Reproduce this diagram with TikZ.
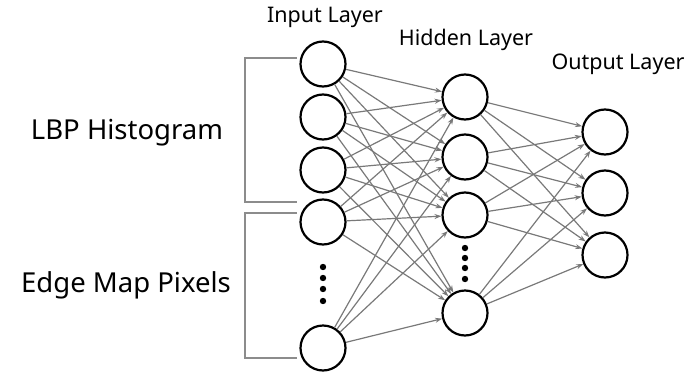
\documentclass[tikz,border=0pt]{standalone}
\usepackage{fontspec}
\setmainfont{Noto Sans}
\usetikzlibrary{arrows.meta}
\begin{document}
\begin{tikzpicture}[x=1pt, y=-1pt]
	\tikzstyle{neuron}  = [circle, minimum size=45pt, inner sep=0pt, draw=black, line width=2.2pt, fill=white]
	\tikzstyle{synapse} = [draw=gray!95!black, line width=1.2pt, -{Stealth[length=7pt, width=5pt]}]
	\tikzstyle{brace}   = [draw=gray!90, line width=1.6pt]
	\tikzstyle{layer}   = [font=\fontsize{21.5}{25}\selectfont]
	\tikzstyle{group}   = [font=\fontsize{27.5}{32}\selectfont]

	\useasboundingbox (0,0) rectangle (698,372);

	% input layer
	\foreach \name/\y in {i1/64, i2/117, i3/170, i4/222, i5/348}
		\node[neuron] (\name) at (323, \y) {};

	% hidden layer
	\foreach \name/\y in {h1/97, h2/157, h3/215, h4/313}
		\node[neuron] (\name) at (465, \y) {};

	% output layer
	\foreach \name/\y in {o1/132, o2/193, o3/255}
		\node[neuron] (\name) at (605, \y) {};

	% skipped units
	\foreach \y in {267, 278, 289, 301}
		\fill (323, \y) circle (3.2pt);
	\foreach \y in {248, 258, 268, 279}
		\fill (465, \y) circle (3.2pt);

	\foreach \from in {i1, i2, i3, i4, i5}
		\foreach \to in {h1, h2, h3, h4}
			\path[synapse] (\from) edge (\to);

	\foreach \from in {h1, h2, h3, h4}
		\foreach \to in {o1, o2, o3}
			\path[synapse] (\from) edge (\to);

	% titles
	\node[layer] (intitle)  at (325, 17) {Input Layer};
	\node[layer] (hidtitle) at (466, 40) {Hidden Layer};
	\node[layer] (outtitle) at (618, 64) {Output Layer};

	% feature groups
	\draw[brace] (297, 58) -| (245, 202) -- (297, 202);
	\draw[brace] (297, 213) -| (245, 358) -- (297, 358);
	\node[group] (lbp)  at (127, 133) {LBP Histogram};
	\node[group] (edge) at (126, 285) {Edge Map Pixels};

\end{tikzpicture}
\end{document}
